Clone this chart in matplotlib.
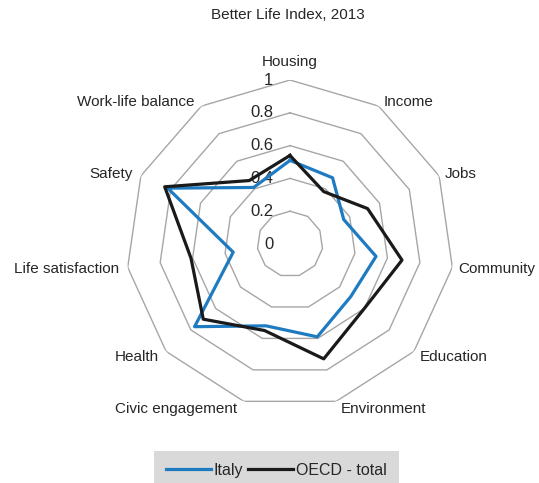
import numpy as np
import matplotlib
matplotlib.use("Agg")
from matplotlib import pyplot as plt

plt.rcParams['font.family'] = ['Liberation Sans', 'DejaVu Sans']

categories = ['Housing', 'Income', 'Jobs', 'Community', 'Education', 'Environment',
              'Civic engagement', 'Health', 'Life satisfaction', 'Safety', 'Work-life balance']
italy = [0.51, 0.48, 0.36, 0.53, 0.49, 0.59, 0.52, 0.77, 0.35, 0.82, 0.41]
oecd = [0.54, 0.38, 0.52, 0.69, 0.60, 0.73, 0.55, 0.70, 0.61, 0.84, 0.46]
ring_levels = [0.2, 0.4, 0.6, 0.8, 1.0]
ring_labels = ['0', '0.2', '0.4', '0.6', '0.8', '1']

n = len(categories)
angles = np.linspace(0, 2 * np.pi, n, endpoint=False)
closed = np.append(angles, angles[0])

fig = plt.figure(figsize=(5.39, 4.83), dpi=100)
ax = fig.add_axes([0.2338, 0.1553, 0.6085, 0.679], projection='polar')
ax.set_theta_offset(np.pi / 2)
ax.set_theta_direction(-1)
ax.set_ylim(0, 1)
ax.grid(False)
ax.spines['polar'].set_visible(False)
ax.set_xticks([])
ax.set_yticks([])
ax.patch.set_alpha(0)

# polygon rings instead of circles
for lvl in ring_levels:
    ax.plot(closed, [lvl] * (n + 1), color='#a6a6a6', lw=1.0, zorder=1)

ax.plot(closed, italy + italy[:1], color='#1f7bc1', lw=2.3, zorder=3, label='Italy')
ax.plot(closed, oecd + oecd[:1], color='#1a1a1a', lw=2.3, zorder=4, label='OECD - total')

# value labels along the vertical axis
for i, txt in enumerate(ring_labels):
    r = i * 0.2
    ax.annotate(txt, xy=(0, r), xytext=(-12, 0), textcoords='offset points',
                ha='right', va='center', fontsize=12, color='#262626', zorder=2)

# category labels around the outside
for ang, name in zip(angles, categories):
    s, c = np.sin(ang), np.cos(ang)
    dy = -0.8 + 4.8 * c
    if abs(s) < 0.1:
        ha, off = 'center', (0, 13)
    elif s > 0:
        ha, off = 'left', (2.5 + 2 * abs(s), dy)
    else:
        ha, off = 'right', (-4 - 2 * abs(s), dy)
    ax.annotate(name, xy=(ang, 1.0), xytext=off, textcoords='offset points',
                ha=ha, va='center', fontsize=11, color='#262626')

fig.text(0.535, 0.968, 'Better Life Index, 2013', ha='center', va='center',
         fontsize=11, color='#262626')

leg = fig.legend(loc='lower center', bbox_to_anchor=(0.513, -0.014), ncol=2,
                 frameon=True, fancybox=False, facecolor='#d9d9d9', edgecolor='none',
                 fontsize=11.5, handlelength=2.8, handletextpad=0.2, columnspacing=0.3,
                 borderpad=0.75, borderaxespad=0, framealpha=1)
for t in leg.get_texts():
    t.set_color('#262626')

fig.savefig('out.png', dpi=100)
